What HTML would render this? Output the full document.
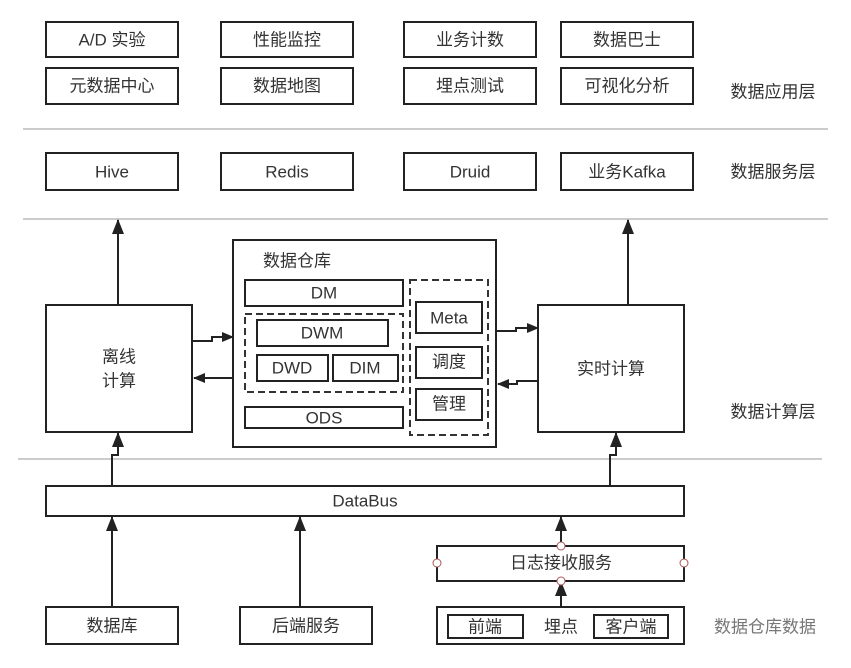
<!DOCTYPE html>
<html><head><meta charset="utf-8"><style>
body{margin:0;background:#fff}
text{font-family:"Liberation Sans","Noto Sans CJK SC",sans-serif;font-size:17px;fill:#333;text-anchor:middle;dominant-baseline:central}
</style></head><body>
<svg width="851" height="663" viewBox="0 0 851 663" xmlns="http://www.w3.org/2000/svg">
<defs><marker id="a" markerWidth="12" markerHeight="10" refX="11" refY="5" orient="auto" markerUnits="userSpaceOnUse"><path d="M0,0 L12,5 L0,10 z" fill="#222"/></marker>
<marker id="b" markerWidth="15" markerHeight="12" refX="14" refY="6" orient="auto" markerUnits="userSpaceOnUse"><path d="M0,0 L15,6 L0,12 z" fill="#222"/></marker></defs>
<g fill="#fff" stroke="#222" stroke-width="2">
<rect x="46" y="22" width="132" height="35"/><rect x="221" y="22" width="132" height="35"/><rect x="404" y="22" width="132" height="35"/><rect x="561" y="22" width="132" height="35"/>
<rect x="46" y="68" width="132" height="36"/><rect x="221" y="68" width="132" height="36"/><rect x="404" y="68" width="132" height="36"/><rect x="561" y="68" width="132" height="36"/>
<rect x="46" y="153" width="132" height="37"/><rect x="221" y="153" width="132" height="37"/><rect x="404" y="153" width="132" height="37"/><rect x="561" y="153" width="132" height="37"/>
<rect x="46" y="305" width="146" height="127"/><rect x="538" y="305" width="146" height="127"/>
<rect x="233" y="240" width="263" height="207"/>
<rect x="245" y="280" width="158" height="26"/>
<rect x="257" y="320" width="131" height="26"/><rect x="257" y="355" width="71" height="26"/><rect x="333" y="355" width="65" height="26"/>
<rect x="245" y="407" width="158" height="21"/>
<rect x="416" y="302" width="66" height="31"/><rect x="416" y="347" width="66" height="31"/><rect x="416" y="389" width="66" height="31"/>
<rect x="46" y="486" width="638" height="30"/>
<rect x="437" y="546" width="247" height="35"/>
<rect x="437" y="607" width="247" height="37"/><rect x="448" y="615" width="75" height="23"/><rect x="594" y="615" width="74" height="23"/>
<rect x="46" y="607" width="132" height="37"/><rect x="240" y="607" width="132" height="37"/>
</g>
<g fill="none" stroke="#333" stroke-width="2" stroke-dasharray="7,4">
<rect x="245" y="314" width="158" height="78"/><rect x="410" y="280" width="78" height="155"/>
</g>
<g stroke="#ccc" stroke-width="2"><line x1="23" y1="129" x2="828" y2="129"/><line x1="23" y1="219" x2="828" y2="219"/><line x1="18" y1="459" x2="822" y2="459"/></g>
<g stroke="#222" stroke-width="2" fill="none">
<line x1="118" y1="305" x2="118" y2="220" marker-end="url(#b)"/>
<line x1="628" y1="305" x2="628" y2="220" marker-end="url(#b)"/>
<polyline points="112,486 112,455 118,455 118,433" marker-end="url(#b)"/>
<polyline points="610,486 610,455 616,455 616,433" marker-end="url(#b)"/>
<line x1="112" y1="607" x2="112" y2="517" marker-end="url(#b)"/>
<line x1="300" y1="607" x2="300" y2="517" marker-end="url(#b)"/>
<line x1="561" y1="546" x2="561" y2="517" marker-end="url(#b)"/>
<line x1="561" y1="607" x2="561" y2="582" marker-end="url(#b)"/>
<polyline points="192,341 212,341 212,337 233,337" marker-end="url(#a)"/>
<line x1="233" y1="378" x2="194" y2="378" marker-end="url(#a)"/>
<polyline points="496,331 516,331 516,328 538,328" marker-end="url(#a)"/>
<polyline points="538,381 517,381 517,384 498,384" marker-end="url(#a)"/>
</g>
<g fill="#fff" stroke="#a55" stroke-width="1"><circle cx="561" cy="546" r="4"/><circle cx="561" cy="581" r="4"/><circle cx="437" cy="563" r="4"/><circle cx="684" cy="563" r="4"/></g>
<text x="112" y="40">A/D 实验</text><text x="287" y="40">性能监控</text><text x="470" y="40">业务计数</text><text x="627" y="40">数据巴士</text>
<text x="112" y="86">元数据中心</text><text x="287" y="86">数据地图</text><text x="470" y="86">埋点测试</text><text x="627" y="86">可视化分析</text>
<text x="112" y="172">Hive</text><text x="287" y="172">Redis</text><text x="470" y="172">Druid</text><text x="627" y="172">业务Kafka</text>
<text x="773" y="92">数据应用层</text><text x="773" y="172">数据服务层</text><text x="773" y="412">数据计算层</text>
<text x="119" y="357">离线</text><text x="119" y="381">计算</text><text x="611" y="369">实时计算</text>
<text x="297" y="261">数据仓库</text><text x="324" y="293">DM</text><text x="322" y="333">DWM</text><text x="292" y="368">DWD</text><text x="365" y="368">DIM</text><text x="324" y="418">ODS</text>
<text x="449" y="318">Meta</text><text x="449" y="362">调度</text><text x="449" y="404">管理</text>
<text x="365" y="501">DataBus</text><text x="561" y="563">日志接收服务</text>
<text x="485" y="627">前端</text><text x="561" y="627">埋点</text><text x="631" y="627">客户端</text>
<text x="112" y="626">数据库</text><text x="306" y="626">后端服务</text>
<text x="765" y="627" style="fill:#777">数据仓库数据</text>
</svg>
</body></html>
